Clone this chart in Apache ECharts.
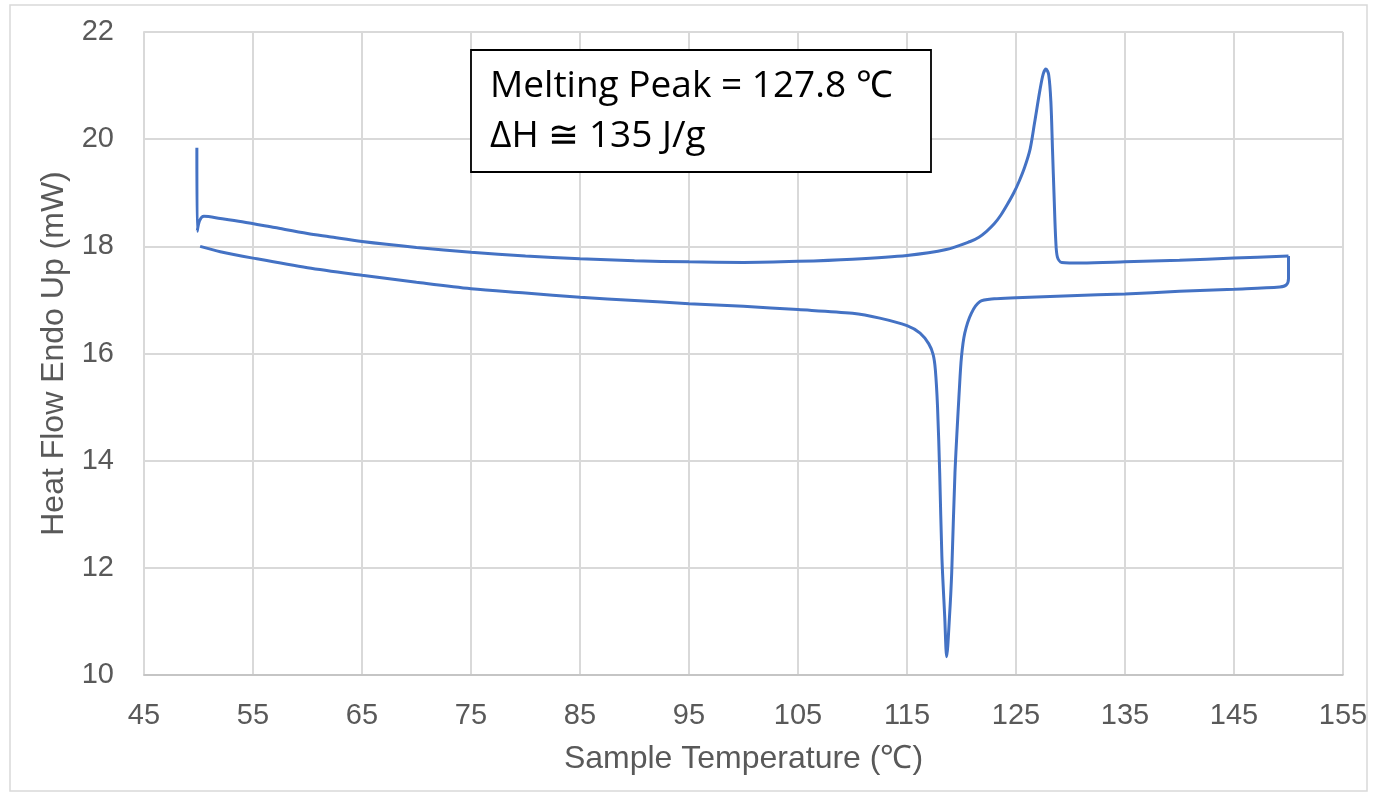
<!DOCTYPE html>
<html>
<head>
<meta charset="utf-8">
<script src="https://cdn.jsdelivr.net/npm/echarts@6/dist/echarts.min.js"></script>
<style>
  html, body { margin: 0; padding: 0; background: #fff; }
  #chart { width: 1374px; height: 795px; }
</style>
</head>
<body>
<div id="chart"></div>
<script>
// heating run (endo up) - temperatures in degC, heat flow in mW
var heatT = [49.85, 49.88, 50.1, 50.5, 52, 54, 57, 60, 62, 65, 70, 75, 80, 85, 90, 95, 100, 105, 110, 115,
  118.6, 120.8, 121.6, 122.3, 123, 123.6, 124.2, 124.8, 125.3, 125.8, 126.3, 126.7, 127.2, 127.5, 127.75, 128.0, 128.2, 128.35, 128.5,
  128.65, 128.8, 129.2, 131, 135, 140, 145, 150];
var heatHF = [19.84, 18.28, 18.48, 18.56, 18.52, 18.46, 18.35, 18.24, 18.18, 18.09, 17.98, 17.89, 17.82, 17.77, 17.73, 17.71, 17.70, 17.72, 17.76, 17.83,
  17.94, 18.09, 18.17, 18.28, 18.42, 18.58, 18.78, 19.00, 19.22, 19.48, 19.82, 20.30, 20.92, 21.22, 21.31, 21.20, 20.70, 19.80, 18.90,
  18.10, 17.80, 17.70, 17.69, 17.71, 17.74, 17.78, 17.82];

// cooling run, from 150 back down to 50
var coolT = [150.0, 150.0, 149.8, 149.2, 145, 140, 135, 130, 125, 123, 121.7, 120.9, 120.3, 120.0, 119.8, 119.4,
  119.1, 118.9, 118.64, 118.46, 118.2, 118.0, 117.8, 117.6, 117.4, 117.0, 116.2, 115, 112.5, 110, 105, 100, 95, 90, 85,
  80, 75, 70, 65, 60, 55, 52, 50.15];
var coolHF = [17.82, 17.40, 17.28, 17.24, 17.20, 17.16, 17.11, 17.08, 17.04, 17.02, 16.97, 16.75, 16.38, 15.94, 15.32, 13.77,
  11.90, 11.09, 10.34, 11.09, 12.21, 13.77, 15.01, 15.70, 15.98, 16.18, 16.38, 16.52, 16.66, 16.75, 16.82, 16.88, 16.93, 16.99, 17.05,
  17.13, 17.21, 17.33, 17.46, 17.60, 17.78, 17.90, 18.00];

var noteLines = ['Melting Peak = 127.8 \u2103', '\u0394H \u2245 135 J/g'];

function pairs(xs, ys) {
  return xs.map(function (x, i) { return [x, ys[i]]; });
}

var myChart = echarts.init(document.getElementById('chart'));
var labelFont = { fontFamily: 'Liberation Sans, Arial, sans-serif', fontSize: 29, color: '#595959' };
var nameFont = { fontFamily: 'Liberation Sans, Arial, sans-serif', fontSize: 32, color: '#595959' };

myChart.setOption({
  backgroundColor: '#fff',
  animation: false,
  grid: { left: 144, right: 31, top: 32, bottom: 120 },
  xAxis: {
    type: 'value',
    min: 45,
    max: 155,
    interval: 10,
    name: 'Sample Temperature (\u2103)',
    nameLocation: 'middle',
    nameGap: 68,
    nameTextStyle: nameFont,
    axisLine: { show: true, lineStyle: { color: '#BFBFBF', width: 1.5 } },
    axisTick: { show: false },
    axisLabel: Object.assign({ margin: 26 }, labelFont),
    splitLine: { show: true, lineStyle: { color: '#D9D9D9', width: 2 } }
  },
  yAxis: {
    type: 'value',
    min: 10,
    max: 22,
    interval: 2,
    name: 'Heat Flow Endo Up (mW)',
    nameLocation: 'middle',
    nameGap: 74,
    nameTextStyle: nameFont,
    axisLine: { show: true, lineStyle: { color: '#D9D9D9', width: 2 } },
    axisTick: { show: false },
    axisLabel: Object.assign({ margin: 30 }, labelFont),
    splitLine: { show: true, lineStyle: { color: '#D9D9D9', width: 2 } }
  },
  series: [
    {
      name: 'Heating',
      type: 'line',
      data: pairs(heatT, heatHF),
      showSymbol: false,
      smooth: 0.3,
      lineStyle: { color: '#4472C4', width: 3 },
      itemStyle: { color: '#4472C4' }
    },
    {
      name: 'Cooling',
      type: 'line',
      data: pairs(coolT, coolHF),
      showSymbol: false,
      smooth: 0.3,
      lineStyle: { color: '#4472C4', width: 3 },
      itemStyle: { color: '#4472C4' }
    }
  ],
  graphic: [
    {
      type: 'rect',
      shape: { x: 10, y: 5, width: 1357, height: 786 },
      style: { fill: 'none', stroke: '#D9D9D9', lineWidth: 1.5 },
      silent: true
    },
    {
      type: 'rect',
      shape: { x: 471, y: 50, width: 460, height: 122 },
      style: { fill: '#fff', stroke: '#000', lineWidth: 1.8 },
      z: 100
    },
    {
      type: 'text',
      left: 490,
      top: 68,
      z: 101,
      style: {
        text: noteLines[0],
        fontFamily: 'Open Sans, Lato, sans-serif',
        fontSize: 37,
        fill: '#000'
      }
    },
    {
      type: 'text',
      left: 490,
      top: 118,
      z: 101,
      style: {
        text: noteLines[1],
        fontFamily: 'Open Sans, Lato, sans-serif',
        fontSize: 37,
        fill: '#000'
      }
    }
  ]
});
</script>
</body>
</html>
